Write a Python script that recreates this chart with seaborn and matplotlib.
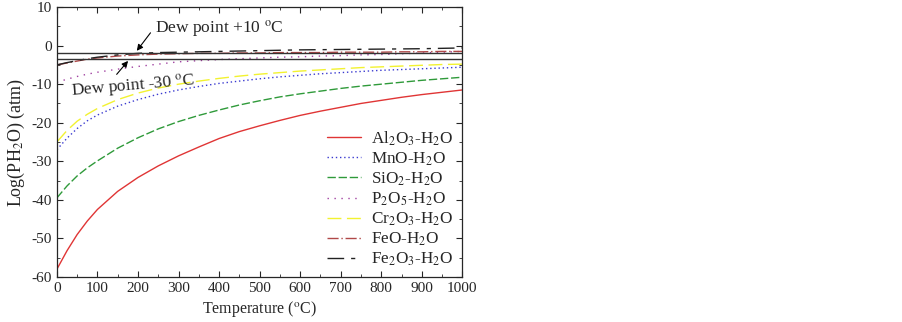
import numpy as np
import pandas as pd
import matplotlib
matplotlib.use("Agg")
import matplotlib.pyplot as plt
import seaborn as sns

sns.set_style("ticks")
plt.rcParams['font.family'] = ['Liberation Serif', 'DejaVu Serif']
plt.rcParams['mathtext.fontset'] = 'stix'
plt.rcParams['axes.unicode_minus'] = False

# temperature grid (deg C)
temps = [0, 25, 50, 75, 100, 150, 200, 250, 300, 350, 400, 450, 500,
         550, 600, 650, 700, 750, 800, 850, 900, 950, 1000]

al2o3 = [-58, -53.2, -49.0, -45.5, -42.5, -37.8, -34.2, -31.2, -28.6, -26.3, -24.1, -22.3, -20.8,
         -19.4, -18.1, -17.0, -16.0, -15.0, -14.2, -13.4, -12.7, -12.1, -11.5]
mno = [-27, -24, -21.5, -19.5, -18, -15.7, -14, -12.6, -11.5, -10.6, -9.8, -9.2, -8.6,
       -8.1, -7.7, -7.3, -7, -6.7, -6.4, -6.2, -6, -5.8, -5.6]
sio2 = [-39.5, -36.4, -33.8, -31.7, -29.9, -26.6, -23.9, -21.6, -19.7, -18.1, -16.7, -15.4, -14.3,
        -13.3, -12.5, -11.8, -11.1, -10.5, -10, -9.5, -9, -8.6, -8.2]
p2o5 = [-9.5, -8.7, -8.0, -7.4, -6.9, -6.1, -5.4, -4.8, -4.2, -3.9, -3.6, -3.4, -3.2,
        -3.0, -2.9, -2.7, -2.6, -2.4, -2.3, -2.1, -1.9, -1.7, -1.5]
cr2o3 = [-25, -22, -19.6, -17.8, -16.3, -14, -12.3, -11, -10, -9.2, -8.5, -7.9, -7.4,
         -7, -6.6, -6.3, -6, -5.7, -5.5, -5.3, -5.1, -4.9, -4.8]
feo = [-5.0, -4.5, -4.0, -3.5, -3.2, -2.7, -2.4, -2.2, -2.1, -2.0, -2.0, -1.9, -1.9,
       -1.8, -1.8, -1.8, -1.7, -1.7, -1.7, -1.6, -1.6, -1.5, -1.5]
fe2o3 = [-5.0, -4.4, -3.9, -3.4, -3.0, -2.4, -2.0, -1.8, -1.7, -1.6, -1.5, -1.4, -1.3,
         -1.2, -1.1, -1.05, -1.0, -0.95, -0.9, -0.85, -0.8, -0.7, -0.6]

dew_plus10 = -1.92
dew_minus30 = -3.42

labels = [r"Al$_2$O$_3$-H$_2$O", r"MnO-H$_2$O", r"SiO$_2$-H$_2$O", r"P$_2$O$_5$-H$_2$O",
          r"Cr$_2$O$_3$-H$_2$O", r"FeO-H$_2$O", r"Fe$_2$O$_3$-H$_2$O"]
series = [al2o3, mno, sio2, p2o5, cr2o3, feo, fe2o3]
colors = ["#e03535", "#3a3ad0", "#2f9a3a", "#a040a0", "#f2f230", "#b04848", "#222222"]
styles = ["-", (0, (1, 2)), (0, (6, 2)), (0, (1, 4)), (0, (10, 4)), (0, (8, 2, 1, 2)), (0, (12, 5, 3, 5))]

fig = plt.figure(figsize=(9.03, 3.22), dpi=100)
ax = fig.add_axes([0.063, 0.140, 0.449, 0.838])

for lab, ys, c, ls in zip(labels, series, colors, styles):
    df = pd.DataFrame({"T": temps, "logp": ys})
    sns.lineplot(data=df, x="T", y="logp", ax=ax, color=c, linestyle=ls, lw=1.0, label=lab)

ax.axhline(dew_plus10, color="#333333", lw=1.0)
ax.axhline(dew_minus30, color="#333333", lw=1.0)

# dew point labels and arrows
ax.text(242, 4.3, r"Dew point +10 $^{\rm o}$C", fontsize=12.5, va="center", ha="left")
ax.annotate("", xy=(193, dew_plus10), xytext=(235, 3.9),
            arrowprops=dict(arrowstyle="-|>", color="black", lw=0.8, mutation_scale=9))
ax.text(188, -10.6, r"Dew point -30 $^{\rm o}$C", fontsize=12.5, va="center", ha="center",
        rotation=5)
ax.annotate("", xy=(180, dew_minus30), xytext=(143, -8),
            arrowprops=dict(arrowstyle="-|>", color="black", lw=0.8, mutation_scale=9))

ax.set_xlim(0, 1000)
ax.set_ylim(-60, 10)
ax.set_xticks(np.arange(0, 1001, 100))
ax.set_xticks(np.arange(0, 1001, 50), minor=True)
ax.set_yticks(np.arange(-60, 11, 10))
ax.set_yticks(np.arange(-60, 11, 5), minor=True)
ax.tick_params(which="both", direction="in", top=True, right=True, labelsize=11)
ax.tick_params(which="major", length=4)
ax.tick_params(which="minor", length=2.5)
for s in ax.spines.values():
    s.set_linewidth(0.9)

ax.set_xlabel(r"Temperature ($^{\rm o}$C)", fontsize=11.5, labelpad=3)
ax.set_ylabel(r"Log(PH$_2$O) (atm)", fontsize=13, labelpad=3)

ax.legend(loc="lower right", frameon=False, fontsize=12.3, handlelength=2.0,
          labelspacing=0.16, borderaxespad=0.1, handletextpad=0.6)

fig.savefig("out.png", dpi=100)
